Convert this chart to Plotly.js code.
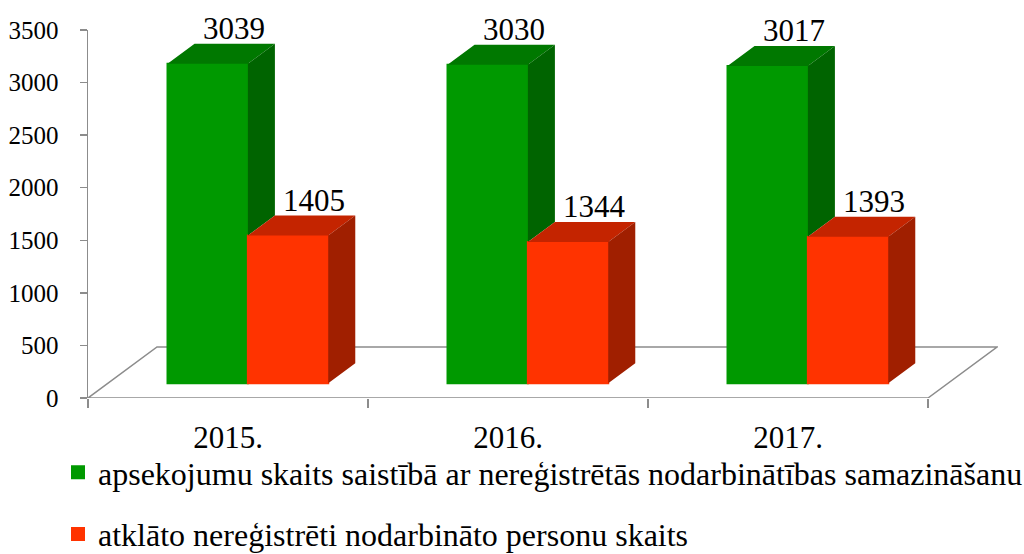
<!DOCTYPE html>
<html>
<head>
<meta charset="utf-8">
<script src="https://cdn.plot.ly/plotly-3.0.1.min.js"></script>
<style>html,body{margin:0;padding:0;background:#fff;}#chart{width:1024px;height:554px;}</style>
</head>
<body>
<div id="chart"></div>
<script>
// ---- data ----
const categories = ['2015.', '2016.', '2017.'];
const seriesNames = [
  'apsekojumu skaits saistībā ar nereģistrētās nodarbinātības samazināšanu',
  'atklāto nereģistrēti nodarbināto personu skaits'
];
const inspections = [3039, 3030, 3017];
const detected = [1405, 1344, 1393];
const yTicks = [0, 500, 1000, 1500, 2000, 2500, 3000, 3500];

// ---- styling / projection parameters ----
const FONT = '"Liberation Serif", "Times New Roman", serif';
const frontCol = ['#009900', '#ff3300'];
const topCol = ['#007800', '#c42400'];
const sideCol = ['#006400', '#a01f00'];
const barW = 0.287;          // bar width in category units
const kx = 0.2464;           // x shift for full floor depth (category units)
const ky = 485;              // y shift for full floor depth (value units)
const d0 = 0.288, d1 = 0.68; // front and back depth of the bars
const nCat = categories.length;
const xMax = nCat + kx + 0.0036;

const series = [inspections, detected];
const traces = [];

// front faces (bars)
series.forEach((vals, s) => {
  traces.push({
    type: 'bar',
    name: seriesNames[s],
    legendgroup: 'g' + s,
    x: vals.map((v, i) => i + 0.5 + (s === 0 ? -barW / 2 : barW / 2) + d0 * kx),
    y: vals,
    base: vals.map(() => d0 * ky),
    width: vals.map(() => barW),
    marker: { color: frontCol[s], line: { width: 2, color: frontCol[s] } },
    hoverinfo: 'skip'
  });
});

// top and side faces
series.forEach((vals, s) => {
  const tx = [], ty = [], sx = [], sy = [];
  vals.forEach((v, i) => {
    const xl = i + 0.5 + (s === 0 ? -barW : 0);
    const xr = xl + barW;
    tx.push(xl + d0 * kx, xr + d0 * kx, xr + d1 * kx, xl + d1 * kx, xl + d0 * kx, null);
    ty.push(v + d0 * ky, v + d0 * ky, v + d1 * ky, v + d1 * ky, v + d0 * ky, null);
    // side face of first series is hidden below the neighbouring bar's top
    const base = s === 0 ? Math.min(v, series[1][i]) : 0;
    sx.push(xr + d0 * kx, xr + d1 * kx, xr + d1 * kx, xr + d0 * kx, xr + d0 * kx, null);
    sy.push(base + d0 * ky, base + d1 * ky, v + d1 * ky, v + d0 * ky, base + d0 * ky, null);
  });
  traces.push({ type: 'scatter', mode: 'lines', x: tx, y: ty, fill: 'toself',
    fillcolor: topCol[s], line: { width: 0, color: topCol[s] }, showlegend: false, hoverinfo: 'skip' });
  traces.push({ type: 'scatter', mode: 'lines', x: sx, y: sy, fill: 'toself',
    fillcolor: sideCol[s], line: { width: 0, color: sideCol[s] }, showlegend: false, hoverinfo: 'skip' });
});

// category labels on an overlaid axis (no marks, only labels)
traces.push({ type: 'scatter', mode: 'none', x: categories.map((c, i) => i + 0.5),
  y: categories.map(() => 0), xaxis: 'x2', yaxis: 'y', showlegend: false, hoverinfo: 'skip' });

// value labels
const annotations = [];
series.forEach((vals, s) => {
  vals.forEach((v, i) => {
    const xl = i + 0.5 + (s === 0 ? -barW : 0);
    annotations.push({
      x: xl + barW / 2 + (d0 + d1) / 2 * kx + 0.045,
      y: v + d1 * ky,
      xref: 'x', yref: 'y',
      text: String(v),
      showarrow: false,
      xanchor: 'center', yanchor: 'bottom',
      yshift: -4,
      font: { family: FONT, size: 31, color: '#000' }
    });
  });
});

// floor outline (axis decoration)
const floorPath = 'M0,0 L' + nCat + ',0 L' + (nCat + kx) + ',' + ky + ' L' + kx + ',' + ky + ' Z';
const boundaries = [];
for (let i = 0; i <= nCat; i++) boundaries.push(i);

const layout = {
  width: 1024, height: 554,
  margin: { l: 88, r: 26, t: 30, b: 156, autoexpand: false },
  paper_bgcolor: '#fff', plot_bgcolor: 'rgba(0,0,0,0)',
  barmode: 'overlay',
  showlegend: true,
  font: { family: FONT, color: '#000' },
  xaxis: {
    range: [0, xMax],
    showgrid: false, zeroline: false, showline: false,
    tickmode: 'array',
    tickvals: boundaries,
    ticktext: boundaries.map(() => ''),
    ticks: 'outside', ticklen: 9, tickcolor: '#8c8c8c', tickwidth: 1.5,
    fixedrange: true
  },
  xaxis2: {
    overlaying: 'x', anchor: 'y', side: 'bottom',
    range: [0, xMax],
    showgrid: false, zeroline: false, showline: false,
    tickmode: 'array',
    tickvals: categories.map((c, i) => i + 0.5),
    ticktext: categories,
    ticks: '',
    ticklabelstandoff: 18,
    tickfont: { family: FONT, size: 31, color: '#000' },
    fixedrange: true
  },
  yaxis: {
    range: [0, 3500],
    tickmode: 'array', tickvals: yTicks, ticktext: yTicks.map(String),
    showgrid: false, zeroline: false,
    showline: true, linecolor: '#8c8c8c', linewidth: 1.5,
    ticks: 'outside', ticklen: 7, tickcolor: '#8c8c8c', tickwidth: 1.5,
    ticklabelstandoff: 16,
    tickfont: { family: FONT, size: 25, color: '#000' },
    fixedrange: true
  },
  shapes: [{
    type: 'path', xref: 'x', yref: 'y', path: floorPath, layer: 'below',
    line: { color: '#8c8c8c', width: 1.5 }, fillcolor: 'rgba(0,0,0,0)'
  }],
  annotations: annotations,
  legend: {
    xref: 'container', yref: 'container',
    x: 58 / 1024, y: 1 - 445 / 554, xanchor: 'left', yanchor: 'top',
    orientation: 'v', traceorder: 'grouped', tracegroupgap: 17,
    font: { family: FONT, size: 32, color: '#000' },
    bgcolor: 'rgba(0,0,0,0)', borderwidth: 0
  }
};

Plotly.newPlot('chart', traces, layout, { displayModeBar: false, staticPlot: true });
</script>
</body>
</html>
